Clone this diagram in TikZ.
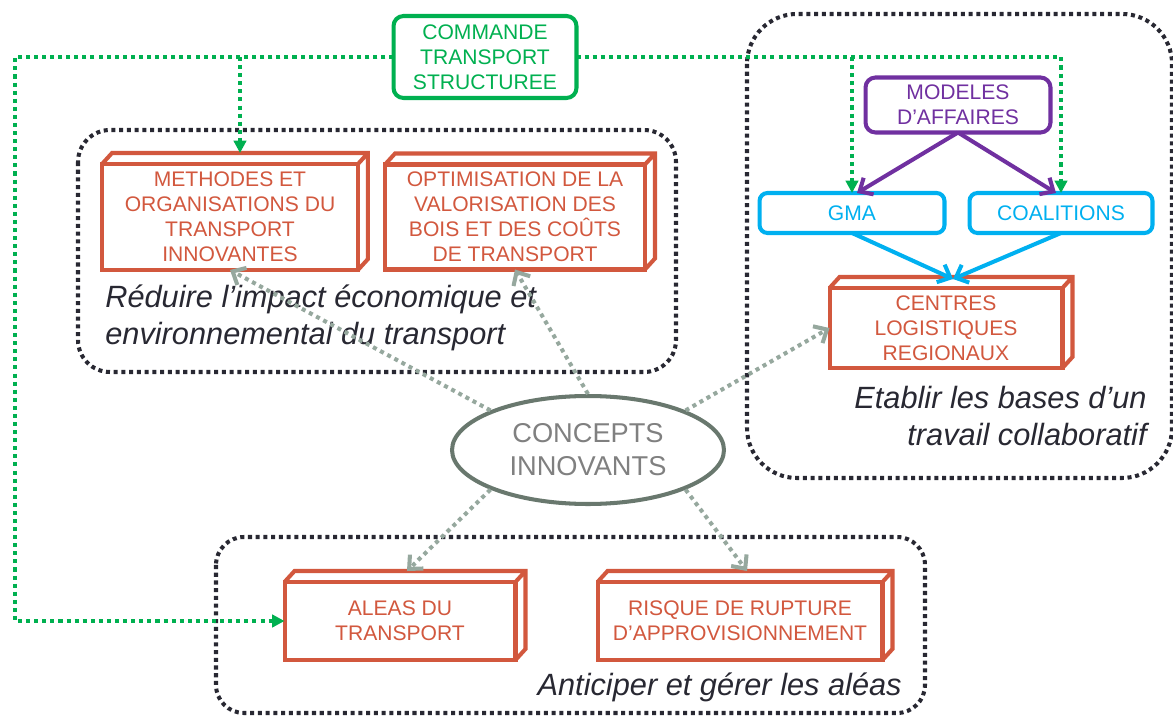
\documentclass[tikz,border=0pt]{standalone}
\usepackage{fontspec}
\setmainfont{Liberation Sans}
\usetikzlibrary{calc,arrows.meta,shapes.geometric}

\definecolor{boxred}{RGB}{210,88,62}
\definecolor{cmdgreen}{RGB}{0,176,80}
\definecolor{modpurple}{RGB}{112,48,160}
\definecolor{gmacyan}{RGB}{0,176,240}
\definecolor{framedark}{RGB}{40,40,50}
\definecolor{conceptgray}{RGB}{105,120,110}
\definecolor{linkgray}{RGB}{150,168,158}

\begin{document}
\begin{tikzpicture}[x=0.02cm, y=-0.02cm,
        cube/.style={draw=boxred, fill=white, text=boxred, line width=2.3pt, outer sep=0pt,
            inner sep=0pt, align=center, font=\fontsize{12}{14.2}\selectfont},
        cubeedge/.style={draw=boxred, line width=2.3pt, line join=miter},
        roundbox/.style={draw, fill=white, line width=2.3pt, rounded corners=0.2cm, outer sep=0pt,
            inner sep=0pt, align=center, font=\fontsize{12}{14.2}\selectfont},
        frame/.style={draw=framedark, line width=2.3pt, dash pattern=on 2.3pt off 2.1pt},
        goal/.style={text=framedark, inner sep=0pt, font=\fontsize{17.5}{21}\selectfont\itshape},
        greenline/.style={cmdgreen, line width=2.3pt, dash pattern=on 2.3pt off 2.3pt,
            -{Triangle[length=7pt,width=7pt]}},
        graylink/.style={linkgray, line width=2.3pt, dash pattern=on 2.3pt off 2.3pt,
            -{Straight Barb[length=6pt,width=11pt]}},
        solidlink/.style={line width=2.3pt, -{Straight Barb[length=6pt,width=11pt]}}]
        % --- 1. Parameters ---
        \def\depX{10}
        \def\depY{11}
        \useasboundingbox (0,0) rectangle (1173,716);

        % --- 2. Dotted frames ---
        \draw[frame, rounded corners=0.64cm] (78,130) rectangle (676,372);
        \draw[frame, rounded corners=1cm] (747,14) rectangle (1172,478);
        \draw[frame, rounded corners=0.56cm] (216,537) rectangle (925,713);

        % --- 3. Boxes ---
        \node[roundbox, draw=cmdgreen, text=cmdgreen, minimum width=3.66cm, minimum height=1.64cm]
            (cmd) at (485,57) {COMMANDE\\TRANSPORT\\STRUCTUREE};
        \node[cube, minimum width=5.12cm, minimum height=2.12cm]
            (meth) at (230,217) {METHODES ET\\ORGANISATIONS DU\\TRANSPORT\\INNOVANTES};
        \node[cube, minimum width=5.2cm, minimum height=2.1cm]
            (optim) at (515,217) {OPTIMISATION DE LA\\VALORISATION DES\\BOIS ET DES COÛTS\\DE TRANSPORT};
        \node[roundbox, draw=modpurple, text=modpurple, minimum width=3.7cm, minimum height=1.1cm]
            (mod) at (958,105) {MODELES\\D’AFFAIRES};
        \node[roundbox, draw=gmacyan, text=gmacyan, rounded corners=0.16cm, minimum width=3.7cm,
            minimum height=0.8cm] (gma) at (852,213) {GMA};
        \node[roundbox, draw=gmacyan, text=gmacyan, rounded corners=0.16cm, minimum width=3.66cm,
            minimum height=0.8cm] (coal) at (1061,213) {COALITIONS};
        \node[cube, minimum width=4.66cm, minimum height=1.6cm]
            (centres) at (946,328) {CENTRES\\LOGISTIQUES\\REGIONAUX};
        \node[cube, minimum width=4.62cm, minimum height=1.56cm]
            (aleas) at (400,621) {ALEAS DU\\TRANSPORT};
        \node[cube, minimum width=5.7cm, minimum height=1.56cm]
            (risque) at (740,621) {RISQUE DE RUPTURE\\D’APPROVISIONNEMENT};
        \node[ellipse, draw=conceptgray, fill=white, line width=2.3pt, text=gray, align=center,
            minimum width=5.44cm, minimum height=2.16cm, inner sep=0pt,
            font=\fontsize{15.5}{18.7}\selectfont] (ci) at (588,450) {CONCEPTS\\INNOVANTS};

        % 3D faces of the red boxes
        \foreach \n in {meth,optim,centres,aleas,risque}
            \draw[cubeedge] (\n.north west) -- ++(\depX,-\depY) -- ($(\n.north east)+(\depX,-\depY)$)
                -- ($(\n.south east)+(\depX,-\depY)$) -- (\n.south east)
                (\n.north east) -- ++(\depX,-\depY);

        % --- 4. Goals ---
        \node[goal, anchor=west, align=left] (reduire) at (105,318)
            {Réduire l’impact économique et\\environnemental du transport};
        \node[goal, anchor=east, align=right] (etablir) at (1147,416)
            {Etablir les bases d’un\\travail collaboratif};
        \node[goal, anchor=east] (anticiper) at (902,687) {Anticiper et gérer les aléas};

        % --- 5. Links ---
        \coordinate (gleft) at (15,57);
        \draw[greenline] (cmd.west) -- (gleft) |- (aleas.west);
        \draw[greenline] (cmd.west) -| ($(meth.north)+(\depX,-\depY)$);
        \draw[greenline] (cmd.east) -| (coal.north);
        \draw[greenline] (cmd.east -| gma.north) -- (gma.north);

        \draw[solidlink, modpurple] (mod.south) -- ($(gma.north)+(5,0)$);
        \draw[solidlink, modpurple] (mod.south) -- ($(coal.north)+(-5,0)$);

        \coordinate (ctop) at ($(centres.north)+(7,-9)$);
        \draw[solidlink, gmacyan] (gma.south) -- (ctop);
        \draw[solidlink, gmacyan] (coal.south) -- (ctop);

        \draw[graylink] (ci.north west) -- (meth.south);
        \draw[graylink] (ci.north) -- (optim.south);
        \draw[graylink] (ci.north east) -- (centres.west);
        \draw[graylink] (ci.south west) -- ($(aleas.north)+(7,-\depY)$);
        \draw[graylink] (ci.south east) -- ($(risque.north)+(7,-\depY)$);
    \end{tikzpicture}
\end{document}
